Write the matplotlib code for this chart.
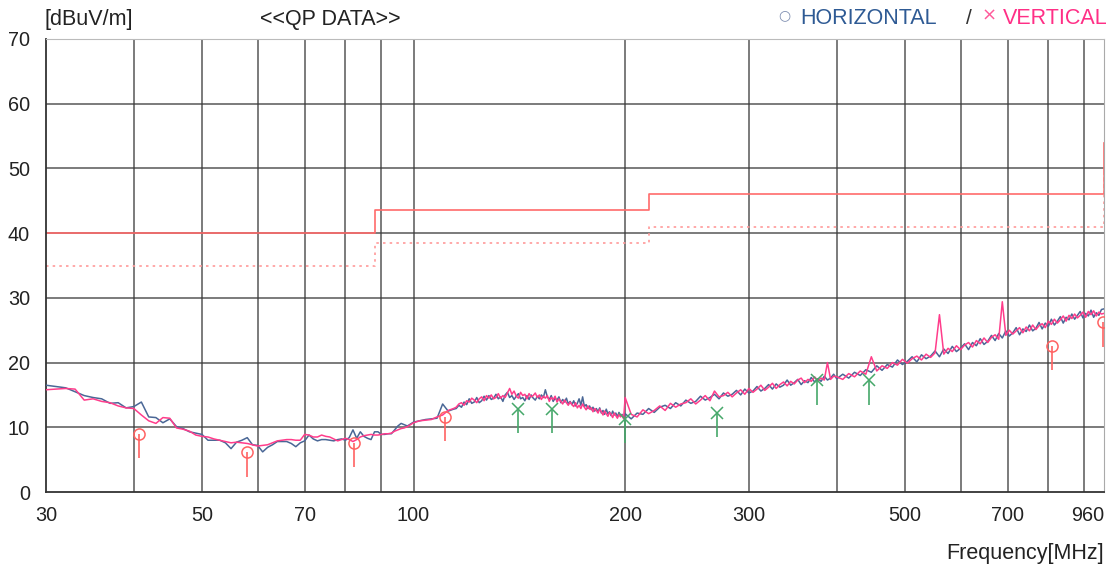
import matplotlib
matplotlib.use('Agg')
from matplotlib import pyplot as plt
from matplotlib.ticker import NullLocator

# sweep frequencies [MHz]
freq_low = [30, 31, 32, 33, 34, 35, 36, 37, 38, 39, 40, 41, 42, 43, 44, 45, 46, 47, 48, 49,
            50, 51, 52, 53, 54, 55, 56, 57, 58, 59, 60, 61, 62, 63, 64, 65, 66, 67, 68, 69,
            70, 71, 72, 73, 74, 75, 76, 77, 78, 79, 80, 81, 82, 83, 84, 85, 86, 87, 88, 89,
            90, 91, 92, 93, 94, 95, 96, 97, 98, 99, 100, 102, 104, 106, 108, 110, 112, 114]
freq_mid = [115, 116, 117, 118, 119, 120, 121, 122, 123, 124,
            125, 126, 127, 128, 129, 130, 131, 132, 133, 134,
            135, 136, 137, 138, 139, 140, 141, 142, 143, 144,
            145, 146, 147, 148, 149, 150, 151, 152, 153, 154,
            155, 156, 157, 158, 159, 160, 161, 162, 163, 164,
            165, 166, 167, 168, 169, 170, 171, 172, 173, 174,
            175, 176, 177, 178, 179, 180, 181, 182, 183, 184,
            185, 186, 187, 188, 189, 190, 191, 192, 193, 194,
            195, 196, 197, 198, 199, 200]
freq_upper = [204, 208, 212, 216, 220, 224, 228, 232, 236, 240,
              244, 248, 252, 256, 260, 264, 268, 272, 276, 280,
              284, 288, 292, 296, 300, 304, 308, 312, 316, 320,
              324, 328, 332, 336, 340, 344, 348, 352, 356, 360,
              364, 368, 372, 376, 380, 384, 388, 392, 396, 400]
freq_high = [408, 416, 424, 432, 440, 448, 456, 464, 472, 480,
             488, 496, 504, 512, 520, 528, 536, 544, 552, 560,
             568, 576, 584, 592, 600, 608, 616, 624, 632, 640,
             648, 656, 664, 672, 680, 688, 696, 704, 712, 720,
             728, 736, 744, 752, 760, 768, 776, 784, 792, 800,
             808, 816, 824, 832, 840, 848, 856, 864, 872, 880,
             888, 896, 904, 912, 920, 928, 936, 944, 952, 960]

# HORIZONTAL peak trace [dBuV/m]
horiz_low = [16.5, 16.3, 16.1, 15.5, 14.9, 14.6, 14.4, 13.7, 13.8, 13.0, 13.2, 13.9, 11.6, 11.5,
             10.7, 11.3, 10.1, 9.8, 9.3, 9.1, 8.9, 8.0, 8.0, 8.0, 7.6, 6.7, 7.7, 8.0, 8.4, 7.3,
             7.2, 6.2, 6.9, 7.3, 7.8, 7.8, 7.8, 7.5, 7.0, 7.6, 7.9, 8.8, 8.2, 7.9, 8.1, 8.1,
             8.0, 7.9, 8.1, 8.2, 8.0, 8.4, 9.6, 8.3, 9.3, 8.6, 8.3, 8.1, 9.3, 9.3, 8.9, 8.9,
             9.0, 9.0, 9.6, 10.2, 10.6, 10.4, 10.2, 10.5, 10.8, 11.0, 11.2, 11.3, 11.4, 13.6,
             12.5, 12.8]
horiz_mid = [12.9, 13.4, 13.1, 13.9, 13.5, 14.4, 13.7, 13.9, 14.6, 13.8,
             14.1, 14.8, 14.2, 14.9, 14.3, 14.5, 15.1, 14.4, 14.7, 14.0,
             15.0, 15.4, 14.6, 14.9, 14.3, 14.8, 15.2, 14.4, 14.6, 14.1,
             14.9, 14.3, 15.0, 14.5, 14.2, 14.8, 14.4, 15.0, 14.6, 15.8,
             14.7, 14.3, 14.9, 14.0, 14.5, 14.2, 14.7, 13.8, 14.3, 13.9,
             14.5, 13.6, 14.0, 13.5, 14.1, 13.3, 13.7, 14.4, 13.4, 14.7,
             13.2, 13.5, 12.9, 13.3, 12.7, 13.1, 12.5, 12.9, 12.4, 13.0,
             12.2, 12.6, 12.0, 12.8, 12.1, 12.4, 11.8, 12.5, 11.9, 12.2,
             11.6, 12.3, 11.7, 12.0, 11.5, 12.1]
horiz_upper = [11.3, 12.2, 12.0, 12.9, 12.3, 13.1, 13.4, 12.9, 13.8, 13.3,
               14.2, 13.7, 14.0, 14.8, 14.2, 14.6, 15.1, 14.4, 15.3, 14.8,
               15.1, 15.7, 15.0, 15.9, 15.3, 15.6, 16.3, 15.6, 16.0, 16.6,
               15.9, 16.7, 16.2, 16.5, 17.3, 16.5, 16.9, 17.4, 16.6, 17.2,
               16.9, 17.7, 17.0, 17.5, 17.1, 17.9, 17.3, 17.6, 18.2, 17.5]
horiz_high = [18.2, 17.6, 18.5, 18.0, 18.9, 18.5, 19.5, 18.8, 19.7, 19.3,
              20.4, 19.7, 20.2, 20.9, 20.1, 21.2, 20.6, 21.0, 21.8, 20.9,
              22.1, 21.4, 22.5, 21.7, 22.2, 22.9, 22.0, 23.1, 22.6, 23.7,
              22.8, 23.3, 24.2, 23.4, 24.5, 23.8, 24.9, 24.1, 24.6, 25.4,
              24.3, 25.2, 24.8, 25.8, 24.9, 25.3, 26.2, 25.2, 26.1, 25.6,
              26.7, 25.8, 26.4, 27.1, 26.1, 27.0, 26.6, 27.5, 26.7, 27.3,
              27.9, 26.9, 27.6, 27.2, 28.1, 27.0, 27.7, 27.3, 28.2, 28.3]

# VERTICAL peak trace [dBuV/m]
vert_low = [15.8, 15.9, 16.0, 15.9, 14.2, 14.4, 14.0, 13.8, 13.3, 13.0, 12.9, 11.9, 11.0, 10.6,
            11.5, 11.4, 9.9, 9.7, 9.4, 8.8, 8.6, 8.5, 8.2, 8.0, 7.8, 7.6, 7.7, 7.6, 7.5, 7.3,
            7.1, 7.2, 7.3, 7.6, 7.9, 8.0, 8.1, 8.1, 8.0, 8.0, 8.9, 8.8, 8.5, 8.5, 8.8, 8.6,
            8.5, 8.2, 7.9, 8.1, 8.3, 8.1, 7.8, 8.1, 8.5, 8.7, 8.8, 8.9, 8.8, 8.8, 8.9, 9.0,
            9.0, 9.1, 9.4, 9.6, 9.8, 9.9, 10.1, 10.4, 10.7, 11.0, 11.1, 11.2, 11.6, 11.9,
            12.6, 12.9]
vert_mid = [13.1, 13.6, 13.8, 13.4, 14.1, 13.9, 14.5, 14.2, 13.8, 14.4,
            14.7, 14.1, 14.9, 14.5, 15.0, 14.4, 14.6, 15.2, 14.5, 14.9,
            14.6, 15.3, 16.0, 15.1, 15.6, 14.8, 14.5, 15.4, 14.9, 15.1,
            14.4, 15.2, 14.7, 14.9, 15.3, 14.6, 15.0, 14.3, 14.8, 14.5,
            14.9, 14.0, 14.6, 14.3, 14.8, 13.9, 14.4, 14.0, 13.6, 14.2,
            13.8, 13.4, 13.9, 13.5, 13.2, 13.8, 13.0, 13.4, 12.9, 13.6,
            13.1, 12.7, 13.3, 12.8, 13.0, 12.4, 12.9, 12.6, 12.2, 12.8,
            12.4, 11.9, 12.5, 12.1, 11.7, 12.3, 12.0, 11.5, 12.2, 11.8,
            11.4, 12.0, 11.6, 11.9, 11.3, 14.6]
vert_upper = [12.0, 11.6, 12.7, 12.1, 12.6, 13.3, 12.6, 13.7, 13.1, 13.6,
              13.8, 14.4, 13.6, 14.2, 14.9, 14.1, 15.6, 14.7, 14.9, 15.4,
              14.7, 15.3, 15.8, 15.1, 16.0, 15.4, 15.9, 16.5, 15.7, 16.2,
              16.8, 16.0, 16.6, 17.0, 16.4, 17.1, 16.7, 17.3, 17.6, 16.9,
              17.4, 17.1, 17.8, 17.2, 17.6, 17.3, 20.0, 17.4, 17.9, 17.8]
vert_high = [17.4, 18.3, 17.8, 18.7, 18.2, 20.9, 18.7, 19.5, 19.1, 20.0,
             19.6, 20.5, 19.9, 20.6, 21.0, 20.4, 21.3, 20.8, 21.5, 27.4,
             21.3, 22.2, 21.7, 22.6, 22.0, 22.7, 23.1, 22.4, 23.4, 22.9,
             23.8, 23.1, 23.9, 24.3, 23.6, 29.4, 24.2, 25.0, 24.4, 24.9,
             25.4, 24.6, 25.5, 24.9, 25.8, 25.1, 25.7, 26.0, 25.4, 26.4,
             25.9, 26.7, 26.1, 26.6, 27.2, 26.4, 27.3, 26.8, 27.5, 26.9,
             27.3, 27.8, 27.0, 27.9, 27.4, 28.0, 27.2, 27.8, 27.5, 27.6]

# QP results
horiz_qp_freq = [40.7, 58.0, 82.3, 110.7, 810, 958]
horiz_qp_level = [9.0, 6.2, 7.6, 11.6, 22.6, 26.3]
horiz_qp_base = [5.3, 2.3, 3.9, 7.9, 18.9, 22.4]
vert_qp_freq = [140.8, 157.5, 200, 270, 375, 444]
vert_qp_level = [12.8, 12.8, 11.3, 12.2, 17.3, 17.3]
vert_qp_base = [9.1, 9.1, 7.6, 8.5, 13.4, 13.4]

# limit lines (step)
limit_freq = [30, 88, 88, 216, 216, 960, 960]
limit_qp = [40, 40, 43.5, 43.5, 46, 46, 54]
limit_margin = [35, 35, 38.5, 38.5, 41, 41, 49]

grid_freq = [40, 50, 60, 70, 80, 90, 100, 200, 300, 400, 500, 600, 700, 800, 900]
grid_level = [10, 20, 30, 40, 50, 60]
tick_freq = [30, 50, 70, 100, 200, 300, 500, 700, 960]

FONT = 'Liberation Sans'


def draw_chart(path):
    fig = plt.figure(figsize=(11.11, 5.65), dpi=100)
    ax = fig.add_axes([46 / 1111, 1 - 492 / 565, 1058 / 1111, 453 / 565])

    ax.set_xscale('log')
    ax.set_xlim(30, 960)
    ax.set_ylim(0, 70)

    for f in grid_freq:
        ax.axvline(f, color='#3a3a3a', lw=1.1, alpha=0.85, zorder=1)
    for v in grid_level:
        ax.axhline(v, color='#3a3a3a', lw=1.1, alpha=0.85, zorder=1)

    ax.plot(limit_freq, limit_qp, color='#ff6b6b', lw=1.2, zorder=2)
    ax.plot(limit_freq, limit_margin, color='#ff9a9a', lw=1.2, ls=(0, (1.5, 2.5)), zorder=2)

    freq = freq_low + freq_mid + freq_upper + freq_high
    horiz = horiz_low + horiz_mid + horiz_upper + horiz_high
    vert = vert_low + vert_mid + vert_upper + vert_high
    ax.plot(freq, horiz, color='#4a6796', lw=1.1, zorder=3)
    ax.plot(freq, vert, color='#ff3d8b', lw=1.1, zorder=4)

    ax.vlines(horiz_qp_freq, horiz_qp_base, horiz_qp_level, color='#ff6262', lw=1.2, zorder=5)
    ax.plot(horiz_qp_freq, horiz_qp_level, 'o', mfc='none', mec='#ff6262', ms=8, mew=1.1, zorder=5)
    ax.vlines(vert_qp_freq, vert_qp_base, vert_qp_level, color='#46a86a', lw=1.2, zorder=5)
    ax.plot(vert_qp_freq, vert_qp_level, 'x', color='#46a86a', ms=9, mew=1.1, zorder=5)

    ax.xaxis.set_minor_locator(NullLocator())
    ax.set_xticks(tick_freq)
    ax.set_xticklabels([str(t) for t in tick_freq], fontfamily=FONT, fontsize=14.3)
    ax.get_xticklabels()[-1].set_ha('right')
    ax.set_yticks(range(0, 71, 10))
    ax.set_yticklabels([str(v) for v in range(0, 71, 10)], fontfamily=FONT, fontsize=14.3)
    ax.tick_params(axis='both', length=0, colors='#222222')
    ax.tick_params(axis='x', pad=10)
    ax.tick_params(axis='y', pad=11.5)

    ax.spines['left'].set_color('#333333')
    ax.spines['bottom'].set_color('#333333')
    ax.spines['left'].set_linewidth(1.3)
    ax.spines['bottom'].set_linewidth(1.3)
    ax.spines['top'].set_color('#bbbbbb')
    ax.spines['right'].set_color('#aaaaaa')

    y_head = 1 - 19 / 565
    fig.text(45 / 1111, y_head, '[dBuV/m]', fontfamily=FONT, fontsize=15.5, color='#222222', va='center')
    fig.text(260 / 1111, y_head, '<<QP DATA>>', fontfamily=FONT, fontsize=15.5, color='#222222', va='center')
    fig.text(784 / 1111, y_head + 0.006, '\u25cb', fontsize=10, color='#7d8db0', ha='center', va='center')
    fig.text(800 / 1111, y_head, 'HORIZONTAL', fontfamily=FONT, fontsize=15.5, color='#2e5a94', va='center')
    fig.text(966 / 1111, y_head, '/', fontfamily=FONT, fontsize=15, color='#333333', va='center')
    fig.text(989 / 1111, y_head + 0.006, '\u00d7', fontsize=13, color='#ff5a9a', ha='center', va='center')
    fig.text(1003 / 1111, y_head, 'VERTICAL', fontfamily=FONT, fontsize=15.5, color='#ff2f86', va='center')
    fig.text(1104 / 1111, 1 - 553 / 565, 'Frequency[MHz]', fontfamily=FONT, fontsize=15.5,
             color='#222222', ha='right', va='center')

    fig.savefig(path, dpi=100)
    plt.close(fig)


def main():
    draw_chart('out.png')


if __name__ == '__main__':
    main()
